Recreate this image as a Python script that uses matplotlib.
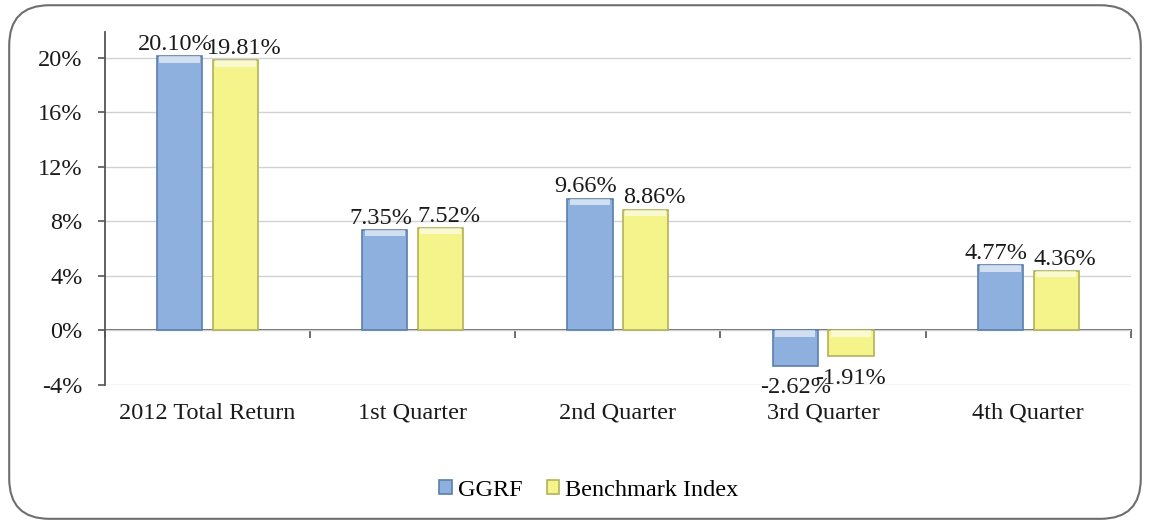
import matplotlib.pyplot as plt
import numpy as np
from matplotlib.patches import FancyBboxPatch

categories = ['2012 Total Return', '1st Quarter', '2nd Quarter', '3rd Quarter', '4th Quarter']
ggrf = [20.10, 7.35, 9.66, -2.62, 4.77]
benchmark = [19.81, 7.52, 8.86, -1.91, 4.36]
series_names = ['GGRF', 'Benchmark Index']
y_ticks = [-4, 0, 4, 8, 12, 16, 20]

plt.rcParams['font.family'] = ['Liberation Serif', 'DejaVu Serif']
FS = 17.5

fig = plt.figure(figsize=(11.5, 5.23), dpi=100)
ax = fig.add_axes([0.0913, 0.264, 0.892, 0.675])

x = np.arange(len(categories))
w = 0.22
off = 0.136
colors = ['#8db0de', '#f4f48a']
edges = ['#5b7eab', '#b3b15a']
label_shift = [-3, 6]   # points; labels pushed apart like Excel does

for i, (vals, dx, fc, ec, name) in enumerate([(ggrf, -off, colors[0], edges[0], series_names[0]),
                                              (benchmark, off, colors[1], edges[1], series_names[1])]):
    bars = ax.bar(x + dx, vals, width=w, color=fc, edgecolor=ec, linewidth=1.2,
                  label=name, zorder=3)
    # bevel highlight at the top of each bar
    tops = [max(v, 0) for v in vals]
    ax.bar(x + dx, [-0.45] * len(vals), bottom=tops, width=w * 0.9, color='white',
           alpha=0.6, linewidth=0, zorder=4)
    for b, v in zip(bars, vals):
        if v >= 0:
            ax.annotate(f'{v:.2f}%', (b.get_x() + b.get_width() / 2, v),
                        xytext=(label_shift[i], 1), textcoords='offset points',
                        ha='center', va='bottom', fontsize=FS, color='#1a1a1a', zorder=5)
        else:
            ax.annotate(f'{v:.2f}%', (b.get_x() + b.get_width() / 2, v),
                        xytext=(0, -8), textcoords='offset points',
                        ha='center', va='top', fontsize=FS, color='#1a1a1a', zorder=5)

ax.set_xlim(-0.5, len(categories) - 0.5)
ax.set_ylim(-4, 21.9)
ax.set_yticks(y_ticks)
ax.set_yticklabels([f'{t}%' for t in y_ticks], fontsize=FS, color='#1a1a1a')
ax.tick_params(axis='y', length=5, width=1.2, color='#555555', pad=11)
ax.grid(axis='y', color='#cfd2d6', linewidth=1, zorder=0)

ax.set_xticks(x)
ax.set_xticklabels(categories, fontsize=FS, color='#1a1a1a')
ax.tick_params(axis='x', length=0, pad=13)

for s in ['top', 'right', 'bottom']:
    ax.spines[s].set_visible(False)
ax.spines['left'].set_color('#555555')
ax.spines['left'].set_linewidth(1.3)

# zero line with category separators
sec = ax.secondary_xaxis(0, transform=ax.transData)
sec.set_xticks(np.arange(len(categories) + 1) - 0.5)
sec.set_xticklabels([])
sec.tick_params(axis='x', length=6, width=1.2, color='#555555', direction='out')
sec.spines['bottom'].set_color('#555555')
sec.spines['bottom'].set_linewidth(1.3)

leg = fig.legend(loc='center', bbox_to_anchor=(0.512, 0.063), ncol=2, frameon=False,
                 fontsize=FS, handlelength=0.5, handleheight=0.5, handletextpad=0.25,
                 columnspacing=1.0)

border = FancyBboxPatch((0.008, 0.008), 0.984, 0.982, boxstyle='round,pad=0,rounding_size=0.035',
                        transform=fig.transFigure, facecolor='none', edgecolor='#6e6e6e',
                        linewidth=1.5, mutation_aspect=1150 / 523)
fig.patches.append(border)

fig.savefig('out.png', dpi=100)
